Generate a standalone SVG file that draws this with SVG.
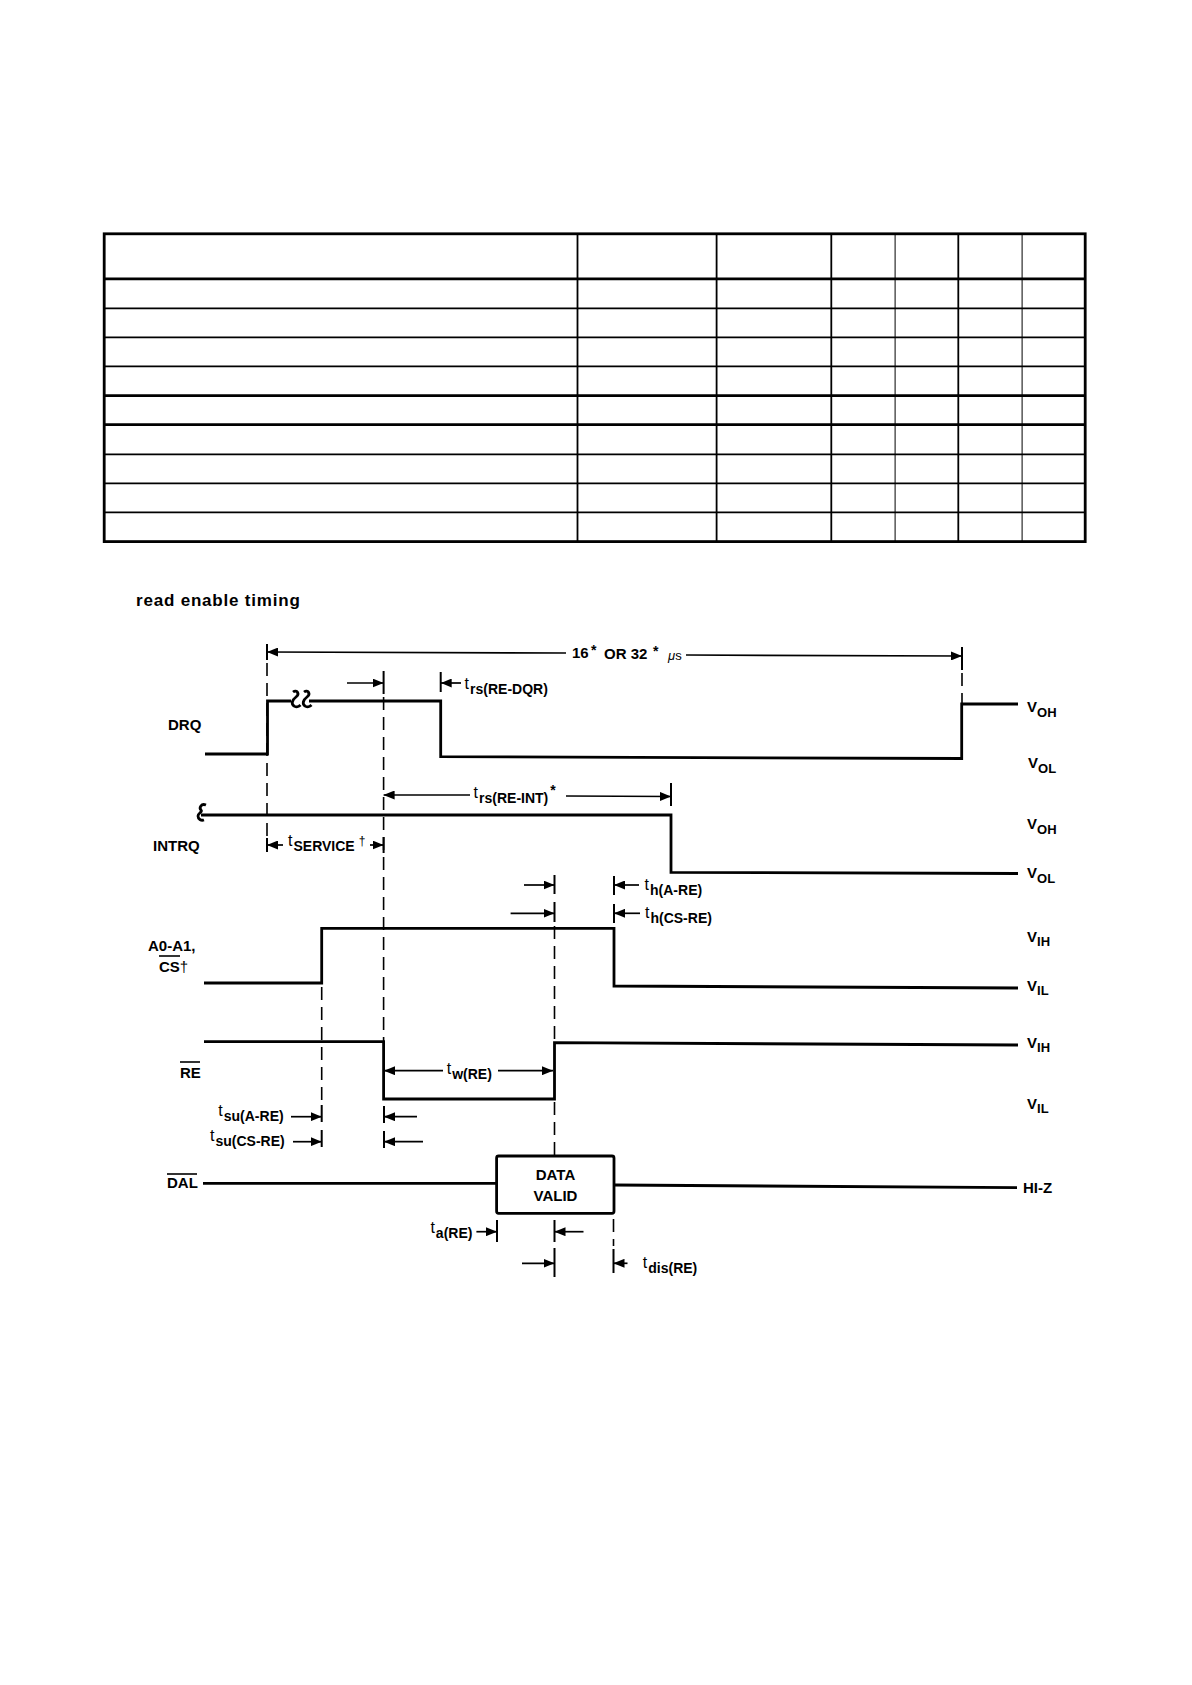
<svg xmlns="http://www.w3.org/2000/svg" width="1192" height="1685" viewBox="0 0 1192 1685">
<style>
.sig{fill:none;stroke:#000;stroke-width:2.8;stroke-linejoin:miter}
.dash{fill:none;stroke:#000;stroke-width:1.6;stroke-dasharray:13 7}
.dim{fill:none;stroke:#000;stroke-width:1.7}
.tick{fill:none;stroke:#000;stroke-width:2}
.gt{stroke:#000;stroke-width:1.8;fill:none}
.gk{stroke:#000;stroke-width:2.8;fill:none}
.gn{stroke:#000;stroke-width:1;fill:none}
text{font-family:"Liberation Sans",Arial,Helvetica,sans-serif;fill:#000}
.lbl{font-size:15px;font-weight:bold}
.t{font-size:16px}
.sub{font-size:14px;font-weight:bold}
.v{font-size:15px;font-weight:bold}
.vs{font-size:13px;font-weight:bold}
.star{font-size:14px;font-weight:bold}
.title{font-size:17px;font-weight:bold;letter-spacing:0.8px}
</style>
<defs>
<marker id="ah" viewBox="0 0 11 9" refX="11" refY="4.5" markerWidth="11" markerHeight="9" markerUnits="userSpaceOnUse" orient="auto-start-reverse"><path d="M0,0 L11,4.5 L0,9 z" fill="#000"/></marker>
</defs>
<rect width="1192" height="1685" fill="#fff"/>

<g id="table">
<rect x="104.2" y="233.8" width="981" height="307.8" class="gk" stroke-width="3"/>
<line x1="104.2" y1="278.8" x2="1085.2" y2="278.8" class="gk"/>
<line x1="104.2" y1="308.3" x2="1085.2" y2="308.3" class="gt"/>
<line x1="104.2" y1="337.3" x2="1085.2" y2="337.3" class="gt"/>
<line x1="104.2" y1="366.3" x2="1085.2" y2="366.3" class="gt"/>
<line x1="104.2" y1="395.7" x2="1085.2" y2="395.7" class="gk"/>
<line x1="104.2" y1="424.7" x2="1085.2" y2="424.7" class="gk"/>
<line x1="104.2" y1="454.3" x2="1085.2" y2="454.3" class="gt"/>
<line x1="104.2" y1="483.3" x2="1085.2" y2="483.3" class="gt"/>
<line x1="104.2" y1="512.3" x2="1085.2" y2="512.3" class="gt"/>
<line x1="577.5" y1="233.8" x2="577.5" y2="541.6" class="gt"/>
<line x1="716.6" y1="233.8" x2="716.6" y2="541.6" class="gt"/>
<line x1="831.3" y1="233.8" x2="831.3" y2="541.6" class="gt"/>
<line x1="895.1" y1="233.8" x2="895.1" y2="541.6" class="gn"/>
<line x1="958.3" y1="233.8" x2="958.3" y2="541.6" class="gt"/>
<line x1="1022.1" y1="233.8" x2="1022.1" y2="541.6" class="gn"/>
</g>

<text id="title" x="136" y="606" class="title">read enable timing</text>

<g id="connectors">
<line x1="267" y1="644" x2="267" y2="660" class="tick"/>
<line x1="267" y1="652" x2="566" y2="653" class="dim" marker-start="url(#ah)"/>
<line x1="686" y1="655" x2="962" y2="656" class="dim" marker-end="url(#ah)"/>
<line x1="962" y1="647" x2="962" y2="670" class="tick"/>
<line x1="962" y1="673" x2="962" y2="704" class="dash"/>
<line x1="267" y1="663" x2="267" y2="838" class="dash"/>
<line x1="347" y1="683" x2="383.6" y2="683" class="dim" marker-end="url(#ah)"/>
<line x1="383.6" y1="671" x2="383.6" y2="694" class="tick"/>
<line x1="440.7" y1="672" x2="440.7" y2="692" class="tick"/>
<line x1="461" y1="683" x2="440.7" y2="683" class="dim" marker-end="url(#ah)"/>
<line x1="383.6" y1="697" x2="383.6" y2="1042" class="dash"/>
<line x1="383.6" y1="795" x2="470" y2="795" class="dim" marker-start="url(#ah)"/>
<line x1="566" y1="796" x2="671" y2="796.5" class="dim" marker-end="url(#ah)"/>
<line x1="671" y1="783" x2="671" y2="806" class="tick"/>
<line x1="267" y1="838" x2="267" y2="852" class="tick"/>
<line x1="267" y1="845" x2="283" y2="845" class="dim" marker-start="url(#ah)"/>
<line x1="370" y1="845" x2="383.6" y2="845" class="dim" marker-end="url(#ah)"/>
<line x1="383.6" y1="837" x2="383.6" y2="853" class="tick"/>
<line x1="524" y1="885" x2="554.5" y2="885" class="dim" marker-end="url(#ah)"/>
<line x1="554.5" y1="875" x2="554.5" y2="894" class="tick"/>
<line x1="614" y1="876" x2="614" y2="895" class="tick"/>
<line x1="639" y1="885" x2="614" y2="885" class="dim" marker-end="url(#ah)"/>
<line x1="510.6" y1="913.3" x2="554.5" y2="913.3" class="dim" marker-end="url(#ah)"/>
<line x1="554.5" y1="902" x2="554.5" y2="922" class="tick"/>
<line x1="614" y1="904" x2="614" y2="923" class="tick"/>
<line x1="640" y1="913.3" x2="614" y2="913.3" class="dim" marker-end="url(#ah)"/>
<line x1="554.5" y1="926" x2="554.5" y2="1042" class="dash"/>
<line x1="554.5" y1="1102" x2="554.5" y2="1156" class="dash"/>
<line x1="384" y1="1070.7" x2="443" y2="1070.7" class="dim" marker-start="url(#ah)"/>
<line x1="498" y1="1070.7" x2="553" y2="1070.7" class="dim" marker-end="url(#ah)"/>
<line x1="321.7" y1="987" x2="321.7" y2="1104" class="dash"/>
<line x1="291" y1="1116.7" x2="321.7" y2="1116.7" class="dim" marker-end="url(#ah)"/>
<line x1="321.7" y1="1105" x2="321.7" y2="1122" class="tick"/>
<line x1="384" y1="1106" x2="384" y2="1123" class="tick"/>
<line x1="417" y1="1116.7" x2="384" y2="1116.7" class="dim" marker-end="url(#ah)"/>
<line x1="293" y1="1141.7" x2="321.7" y2="1141.7" class="dim" marker-end="url(#ah)"/>
<line x1="321.7" y1="1130" x2="321.7" y2="1147" class="tick"/>
<line x1="384" y1="1131" x2="384" y2="1148" class="tick"/>
<line x1="423" y1="1141.7" x2="384" y2="1141.7" class="dim" marker-end="url(#ah)"/>
<line x1="476.4" y1="1231.7" x2="497" y2="1231.7" class="dim" marker-end="url(#ah)"/>
<line x1="497" y1="1220" x2="497" y2="1242" class="tick"/>
<line x1="554.5" y1="1220" x2="554.5" y2="1242" class="tick"/>
<line x1="583.5" y1="1231.7" x2="554.5" y2="1231.7" class="dim" marker-end="url(#ah)"/>
<line x1="522" y1="1263.3" x2="554.5" y2="1263.3" class="dim" marker-end="url(#ah)"/>
<line x1="554.5" y1="1248" x2="554.5" y2="1277" class="tick"/>
<line x1="613.5" y1="1219" x2="613.5" y2="1246" class="dash"/>
<line x1="613.5" y1="1249" x2="613.5" y2="1273" class="tick"/>
<line x1="627.5" y1="1263.3" x2="613.5" y2="1263.3" class="dim" marker-end="url(#ah)"/>
</g>

<g id="drq">
<path class="sig" d="M205,754 H267.5 V701 H291"/>
<path class="sig" stroke-width="2" d="M293,692 C297,689 300,694 296,697 C292,700 291,704 294,706 C296,707.5 299,706.5 300.5,705"/>
<path class="sig" stroke-width="2" d="M304,692 C308,689 311,694 307,697 C303,700 302,704 305,706 C307,707.5 310,706.5 311.5,705"/>
<path class="sig" d="M309,701 H440.7 V756.7 L961.7,758.5 V704 H1018"/>
<text x="168" y="730" class="lbl">DRQ</text>
<text x="1027" y="712" class="v">V<tspan class="vs" dy="5">OH</tspan></text>
<text x="1028" y="768" class="v">V<tspan class="vs" dy="5">OL</tspan></text>
</g>

<g id="intrq">
<path class="sig" stroke-width="2" d="M206,805 C201,803 199,808 201,810 C203,812 198,813 198,816 C198,819 201,821 204,820"/>
<path class="sig" d="M201,815 H671 V872.3 L1018,873.5"/>
<text x="153" y="851" class="lbl">INTRQ</text>
<text x="1027" y="829" class="v">V<tspan class="vs" dy="5">OH</tspan></text>
<text x="1027" y="878" class="v">V<tspan class="vs" dy="5">OL</tspan></text>
</g>

<g id="addr">
<path class="sig" d="M204,983 H321.7 V928.3 H614 V986 L1018,988"/>
<text x="148" y="950.5" class="lbl">A0-A1,</text>
<text x="159" y="971.5" class="lbl">CS<tspan font-weight="normal">†</tspan></text>
<line x1="159" y1="956" x2="180" y2="956" stroke="#000" stroke-width="1.6"/>
<text x="1027" y="942" class="v">V<tspan class="vs" dy="4">IH</tspan></text>
<text x="1027" y="991" class="v">V<tspan class="vs" dy="4">IL</tspan></text>
</g>

<g id="re">
<path class="sig" d="M204,1041.7 H383.6 V1099 H554.5 V1042.7 L1018,1045"/>
<text x="180" y="1078" class="lbl">RE</text>
<line x1="180" y1="1062" x2="200" y2="1062" stroke="#000" stroke-width="1.6"/>
<text x="1027" y="1048" class="v">V<tspan class="vs" dy="4">IH</tspan></text>
<text x="1027" y="1109" class="v">V<tspan class="vs" dy="4">IL</tspan></text>
</g>

<g id="dal">
<path class="sig" d="M203,1183.3 H496.6"/>
<path class="sig" d="M614,1185 L1017,1187.7"/>
<rect x="496.6" y="1156" width="117.4" height="57.3" rx="2" class="sig"/>
<text x="555.5" y="1180" class="lbl" text-anchor="middle">DATA</text>
<text x="555.5" y="1201" class="lbl" text-anchor="middle">VALID</text>
<text x="167" y="1188" class="lbl">DAL</text>
<line x1="167" y1="1174" x2="197" y2="1174" stroke="#000" stroke-width="1.6"/>
<text x="1023" y="1193" class="lbl">HI-Z</text>
</g>

<g id="labels">
<text y="658" class="lbl" font-size="16px"><tspan x="572">16</tspan><tspan x="591" y="655" class="star">*</tspan><tspan x="604" y="659">OR 32</tspan><tspan x="653" y="656" class="star">*</tspan><tspan x="668" y="660" font-size="13px" font-weight="normal"><tspan font-style="italic">μ</tspan>s</tspan></text>
<text x="464.6" y="689" class="t">t<tspan class="sub" dx="1" dy="5">rs(RE-DQR)</tspan></text>
<text x="473.6" y="798" class="t">t<tspan class="sub" dx="1" dy="5">rs(RE-INT)</tspan><tspan class="star" dx="2" dy="-8">*</tspan></text>
<text x="288" y="846" class="t">t<tspan class="sub" dx="1" dy="5">SERVICE</tspan><tspan dx="4" dy="-6" font-size="12px">†</tspan></text>
<text x="644.6" y="890" class="t">t<tspan class="sub" dx="1" dy="5">h(A-RE)</tspan></text>
<text x="645" y="918" class="t">t<tspan class="sub" dx="1" dy="5">h(CS-RE)</tspan></text>
<text x="446.7" y="1074" class="t">t<tspan class="sub" dx="1" dy="5">w(RE)</tspan></text>
<text x="218.3" y="1116" class="t">t<tspan class="sub" dx="1" dy="5">su(A-RE)</tspan></text>
<text x="210" y="1141" class="t">t<tspan class="sub" dx="1" dy="5">su(CS-RE)</tspan></text>
<text x="430.4" y="1233" class="t">t<tspan class="sub" dx="1" dy="5">a(RE)</tspan></text>
<text x="642.8" y="1268" class="t">t<tspan class="sub" dx="1" dy="5">dis(RE)</tspan></text>
</g>
</svg>
